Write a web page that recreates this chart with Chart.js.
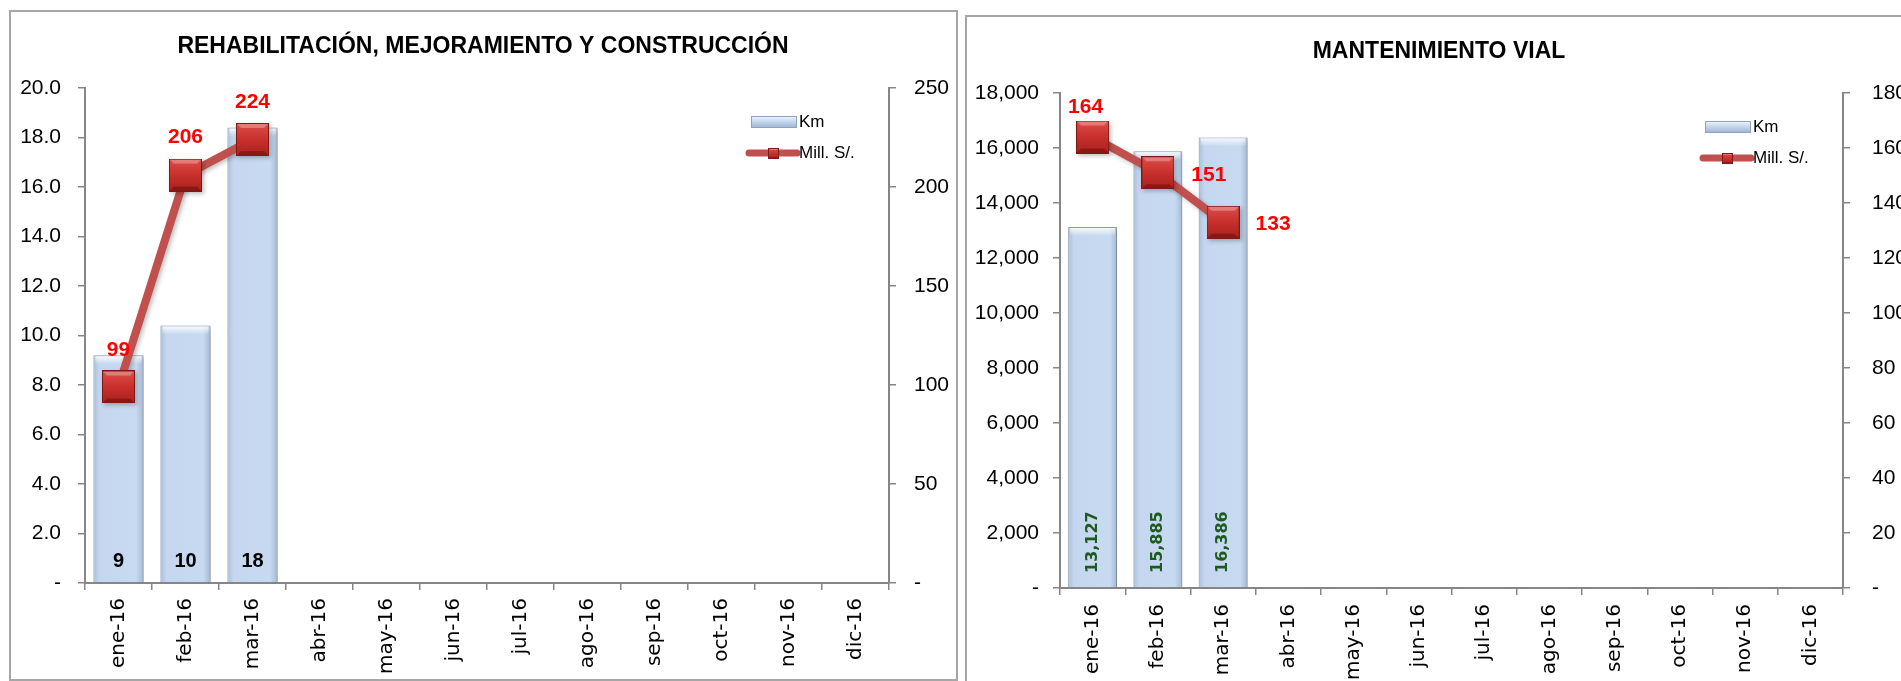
<!DOCTYPE html>
<html>
<head>
<meta charset="utf-8">
<script src="https://cdn.jsdelivr.net/npm/chart.js@4.4.1/dist/chart.umd.min.js"></script>
<style>
  html, body { margin: 0; padding: 0; background: #fff; overflow: hidden; width: 1901px; height: 681px; }
  .panel { position: absolute; border: 2px solid #a6a6a6; box-sizing: border-box; }
  canvas { position: absolute; }
</style>
</head>
<body>
<div class="panel" style="left:9px; top:10px; width:949px; height:671px;"></div>
<div class="panel" style="left:965px; top:15px; width:960px; height:700px;"></div>
<canvas id="rehabChart" width="946" height="669" style="left:10px; top:11px;"></canvas>
<canvas id="mantChart" width="946" height="680" style="left:966px; top:16px;"></canvas>
<script>
// DATA
const months = ['ene-16', 'feb-16', 'mar-16', 'abr-16', 'may-16', 'jun-16', 'jul-16', 'ago-16', 'sep-16', 'oct-16', 'nov-16', 'dic-16'];

// rehabilitación, mejoramiento y construcción
const rehabKm = [9.2, 10.4, 18.4, null, null, null, null, null, null, null, null, null];
const rehabMill = [99, 206, 224, null, null, null, null, null, null, null, null, null];

// mantenimiento vial
const mantKm = [13127, 15885, 16386, null, null, null, null, null, null, null, null, null];
const mantMill = [164, 151, 133, null, null, null, null, null, null, null, null, null];

const seriesNames = ['Km', 'Mill. S/.'];

Chart.defaults.font.family = "'Liberation Sans', Arial, sans-serif";
Chart.defaults.color = '#000';

const AXIS_GRAY = '#868686';
const LINE_RED = '#c0504d';

// red 3d square used as point marker
function makeMarker(size) {
    const c = document.createElement('canvas');
    c.width = size; c.height = size;
    const g = c.getContext('2d');
    const grad = g.createLinearGradient(0, 0, 0, size);
    grad.addColorStop(0, '#dd4f4a');
    grad.addColorStop(0.5, '#c8302c');
    grad.addColorStop(1, '#a8211e');
    g.fillStyle = grad;
    g.fillRect(0, 0, size, size);
    // bevel
    const b = Math.round(size * 0.14);
    g.fillStyle = 'rgba(255,255,255,0.28)';
    g.beginPath(); g.moveTo(0, 0); g.lineTo(size, 0); g.lineTo(size - b, b); g.lineTo(b, b); g.closePath(); g.fill();
    g.fillStyle = 'rgba(80,0,0,0.35)';
    g.beginPath(); g.moveTo(0, size); g.lineTo(size, size); g.lineTo(size - b, size - b); g.lineTo(b, size - b); g.closePath(); g.fill();
    g.strokeStyle = '#7d1a18';
    g.lineWidth = 1;
    g.strokeRect(0.5, 0.5, size - 1, size - 1);
    return c;
}
const bigMarker = makeMarker(33);
const smallMarker = makeMarker(11);

function barFill(c) {
    const chart = c.chart;
    const xs = chart.scales.x;
    if (!xs || c.type !== 'data') return '#c6d9f1';
    const cx = xs.getPixelForValue(c.dataIndex);
    const half = xs.width / months.length * 0.75 / 2;
    if (!isFinite(cx) || !isFinite(half) || half <= 0) return '#c6d9f1';
    const grad = chart.ctx.createLinearGradient(cx - half, 0, cx + half, 0);
    grad.addColorStop(0, '#a9bfdb');
    grad.addColorStop(0.12, '#c4d7ef');
    grad.addColorStop(0.85, '#c7daf1');
    grad.addColorStop(1, '#a3b8d4');
    return grad;
}

// shadows + top bevel on the bars
const barLook = {
    id: 'barLook',
    beforeDatasetDraw(chart, args) {
        chart.ctx.save();
        chart.ctx.shadowColor = 'rgba(0,0,0,0.25)';
        chart.ctx.shadowBlur = 4;
        chart.ctx.shadowOffsetX = 2;
        chart.ctx.shadowOffsetY = 2;
    },
    afterDatasetDraw(chart, args) {
        chart.ctx.restore();
        if (args.meta.type !== 'bar') return;
        const ctx = chart.ctx;
        args.meta.data.forEach(el => {
            if (el.skip || !isFinite(el.y) || !isFinite(el.x)) return;
            const w = el.width;
            const g = ctx.createLinearGradient(0, el.y, 0, el.y + 9);
            g.addColorStop(0, 'rgba(255,255,255,0.95)');
            g.addColorStop(1, 'rgba(255,255,255,0)');
            ctx.fillStyle = g;
            ctx.fillRect(el.x - w / 2 + 2, el.y + 1, w - 4, 9);
        });
    }
};

// legend in top right of the plot
const sideLegend = {
    id: 'sideLegend',
    afterDraw(chart, args, opts) {
        const ctx = chart.ctx;
        const area = chart.chartArea;
        const x = area.right - opts.right;
        const y1 = area.top + opts.top;
        const y2 = y1 + opts.gap;
        ctx.save();
        // Km box
        const g = ctx.createLinearGradient(0, y1 - 6, 0, y1 + 6);
        g.addColorStop(0, '#f4f8fd');
        g.addColorStop(0.4, '#c9dbf1');
        g.addColorStop(1, '#9db3d0');
        ctx.fillStyle = g;
        ctx.fillRect(x, y1 - 6, 46, 12);
        ctx.strokeStyle = '#8ea3bf';
        ctx.lineWidth = 1;
        ctx.strokeRect(x + 0.5, y1 - 5.5, 45, 11);
        // line + marker
        ctx.strokeStyle = LINE_RED;
        ctx.lineWidth = 7;
        ctx.lineCap = 'round';
        ctx.beginPath(); ctx.moveTo(x - 2, y2); ctx.lineTo(x + 46, y2); ctx.stroke();
        ctx.drawImage(smallMarker, x + 22 - 5, y2 - 5);
        ctx.fillStyle = '#000';
        ctx.font = "17px 'Liberation Sans', Arial, sans-serif";
        ctx.textBaseline = 'middle';
        ctx.textAlign = 'left';
        ctx.fillText(seriesNames[0], x + 48, y1);
        ctx.fillText(seriesNames[1], x + 48, y2);
        ctx.restore();
    }
};

// value labels: bars near the base, line values near the markers
const valueLabels = {
    id: 'valueLabels',
    afterDatasetsDraw(chart, args, opts) {
        const ctx = chart.ctx;
        const area = chart.chartArea;
        ctx.save();
        const barMeta = chart.getDatasetMeta(0);
        const barData = chart.data.datasets[0].data;
        ctx.fillStyle = opts.barColor;
        ctx.font = opts.barFont;
        barMeta.data.forEach((el, i) => {
            if (barData[i] === null) return;
            const txt = opts.barFormat(barData[i]);
            if (opts.barRotate) {
                ctx.save();
                ctx.translate(el.x, area.bottom - opts.barOffset);
                ctx.rotate(-Math.PI / 2);
                ctx.textAlign = 'left';
                ctx.textBaseline = 'middle';
                ctx.fillText(txt, 0, 0);
                ctx.restore();
            } else {
                ctx.textAlign = 'center';
                ctx.textBaseline = 'middle';
                ctx.fillText(txt, el.x, area.bottom - opts.barOffset);
            }
        });
        const lineMeta = chart.getDatasetMeta(1);
        const lineData = chart.data.datasets[1].data;
        ctx.fillStyle = '#ff0000';
        ctx.font = opts.lineFont;
        ctx.textAlign = 'center';
        ctx.textBaseline = 'middle';
        lineMeta.data.forEach((el, i) => {
            if (lineData[i] === null) return;
            const off = opts.lineOffsets[i];
            ctx.fillText(String(Math.round(lineData[i])), el.x + off[0], el.y + off[1]);
        });
        ctx.restore();
    }
};

function axisGrid() {
    return { drawOnChartArea: false, drawTicks: true, tickLength: 7, color: AXIS_GRAY, lineWidth: 1.5 };
}

function buildChart(canvasId, title, kmData, millData, cfg) {
    const ctx = document.getElementById(canvasId).getContext('2d');
    return new Chart(ctx, {
        type: 'bar',
        data: {
            labels: months,
            datasets: [{
                type: 'bar',
                label: seriesNames[0],
                data: kmData,
                yAxisID: 'y',
                backgroundColor: barFill,
                borderColor: '#8a9fbc',
                borderWidth: 1,
                categoryPercentage: 1,
                barPercentage: 0.75,
                order: 1
            }, {
                type: 'line',
                label: seriesNames[1],
                data: millData,
                yAxisID: 'y1',
                borderColor: LINE_RED,
                borderWidth: 8,
                pointStyle: bigMarker,
                pointRadius: 17,
                tension: 0,
                order: 0
            }]
        },
        options: {
            responsive: false,
            animation: false,
            layout: { padding: 0 },
            plugins: {
                legend: { display: false },
                tooltip: { enabled: false },
                title: {
                    display: true,
                    text: title,
                    color: '#000',
                    font: { size: 23, weight: 'bold' },
                    padding: { top: 22, bottom: 27.4 }
                },
                sideLegend: { right: 138, top: 34, gap: 31 },
                valueLabels: cfg.labels
            },
            scales: {
                x: {
                    offset: true,
                    grid: Object.assign(axisGrid(), { offset: true }),
                    border: { color: AXIS_GRAY, width: 2 },
                    ticks: {
                        autoSkip: false,
                        minRotation: 90,
                        maxRotation: 90,
                        padding: cfg.xPad,
                        color: '#000',
                        font: { family: "'DejaVu Sans', Verdana, sans-serif", size: 20 }
                    },
                    afterFit: s => { s.height = cfg.xHeight; }
                },
                y: {
                    position: 'left',
                    min: 0,
                    max: cfg.yMax,
                    grid: axisGrid(),
                    border: { color: AXIS_GRAY, width: 2 },
                    ticks: {
                        stepSize: cfg.yStep,
                        padding: cfg.yPad,
                        color: '#000',
                        font: { size: 21 },
                        callback: cfg.yFormat
                    },
                    afterFit: s => { s.width = cfg.yWidth; }
                },
                y1: {
                    position: 'right',
                    min: 0,
                    max: cfg.y1Max,
                    grid: axisGrid(),
                    border: { color: AXIS_GRAY, width: 2 },
                    ticks: {
                        stepSize: cfg.y1Step,
                        padding: cfg.y1Pad,
                        color: '#000',
                        font: { size: 21 },
                        callback: v => v === 0 ? '-' : String(v)
                    },
                    afterFit: s => { s.width = cfg.y1Width; }
                }
            }
        },
        plugins: [barLook, sideLegend, valueLabels]
    });
}

//REHABILITACION CHART
buildChart('rehabChart', 'REHABILITACIÓN, MEJORAMIENTO Y CONSTRUCCIÓN', rehabKm, rehabMill, {
    yMax: 20, yStep: 2, y1Max: 250, y1Step: 50,
    yWidth: 75, y1Width: 67, xHeight: 97,
    yPad: 17, y1Pad: 18, xPad: 8,
    yFormat: v => v === 0 ? '-' : v.toFixed(1),
    labels: {
        barColor: '#000',
        barFont: "bold 20px 'Liberation Sans', Arial, sans-serif",
        barFormat: v => String(Math.round(v)),
        barRotate: false,
        barOffset: 22,
        lineFont: "bold 21px 'Liberation Sans', Arial, sans-serif",
        lineOffsets: [[0, -37], [0, -38], [0, -37]]
    }
});

//MANTENIMIENTO CHART
buildChart('mantChart', 'MANTENIMIENTO VIAL', mantKm, mantMill, {
    yMax: 18000, yStep: 2000, y1Max: 180, y1Step: 20,
    yWidth: 94, y1Width: 69, xHeight: 108,
    yPad: 14, y1Pad: 22, xPad: 9,
    yFormat: v => v === 0 ? '-' : v.toLocaleString('en-US'),
    labels: {
        barColor: '#1d5a1d',
        barFont: "bold 16px 'DejaVu Sans', Verdana, sans-serif",
        barFormat: v => Math.round(v).toLocaleString('en-US'),
        barRotate: true,
        barOffset: 15,
        lineFont: "bold 21px 'Liberation Sans', Arial, sans-serif",
        lineOffsets: [[-7, -30], [51, 2], [50, 2]]
    }
});
</script>
</body>
</html>
